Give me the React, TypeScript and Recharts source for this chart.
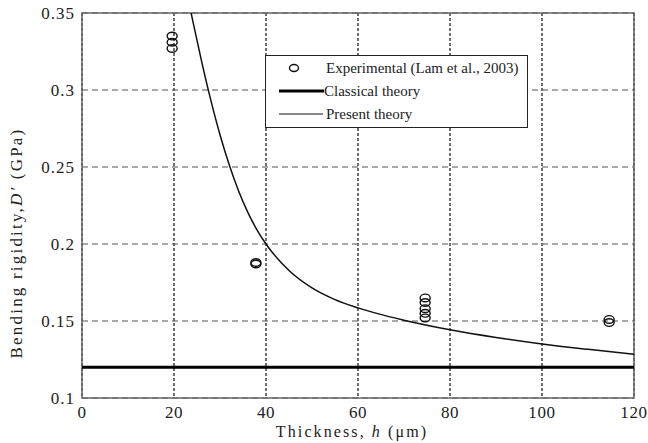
import React from "react";
import {
  ComposedChart,
  Line,
  Scatter,
  XAxis,
  YAxis,
  CartesianGrid,
  ReferenceArea,
  Label,
} from "recharts";

// present theory curve
const presentH = [23, 24, 26, 28, 30, 32, 34, 36, 38, 40, 45, 50, 55, 60, 70, 80, 90, 100, 110, 120];
const presentD = [0.3605, 0.346, 0.3186, 0.2934, 0.2709, 0.2514, 0.2348, 0.2209, 0.2094, 0.2, 0.1828, 0.1715, 0.1639, 0.1585, 0.1505, 0.1443, 0.1393, 0.1351, 0.1316, 0.1284];

// classical theory (constant)
const classicalH = [0, 120];
const classicalD = [0.12, 0.12];

// experimental (Lam et al., 2003)
const expH = [19.6, 19.6, 19.6, 37.8, 37.8, 74.6, 74.6, 74.6, 74.6, 74.6, 114.6, 114.6];
const expD = [0.335, 0.331, 0.327, 0.188, 0.187, 0.165, 0.162, 0.158, 0.155, 0.152, 0.151, 0.149];

const xTicks = [0, 20, 40, 60, 80, 100, 120];
const yTicks = [0.1, 0.15, 0.2, 0.25, 0.3, 0.35];

const present = presentH.map((h, i) => ({ h, d: presentD[i] }));
const classical = classicalH.map((h, i) => ({ h, d: classicalD[i] }));
const experimental = expH.map((h, i) => ({ h, d: expD[i] }));

const font = "'Liberation Serif', 'Times New Roman', 'DejaVu Serif', serif";

const Ring = (props: any) => (
  <ellipse cx={props.cx} cy={props.cy} rx={5} ry={3.8} fill="none" stroke="#111" strokeWidth={1.4} />
);

export default function App() {
  return (
    <div style={{ position: "absolute", left: 0, top: 0, width: 648, height: 443, background: "#fff", fontFamily: font }}>
      <ComposedChart
        width={648}
        height={443}
        margin={{ top: 13, right: 14, bottom: 0, left: 0 }}
        style={{ fontFamily: font }}
      >
        <CartesianGrid horizontal={false} stroke="#222" strokeDasharray="3 2" strokeWidth={1.3} />
        <CartesianGrid vertical={false} stroke="#555" strokeDasharray="6 4" strokeWidth={1.2} />
        <XAxis
          dataKey="h"
          type="number"
          domain={[0, 120]}
          ticks={xTicks}
          height={45}
          axisLine={false}
          tickLine={false}
          tick={{ fill: "#222", fontSize: 17, letterSpacing: 0.6, style: { fontFamily: font } }}
          tickMargin={2}
        >
          <Label
            content={() => (
              <text
                x={352}
                y={437}
                textAnchor="middle"
                fill="#222"
                fontSize={16}
                letterSpacing={2.1}
                style={{ fontFamily: font }}
              >
                Thickness, <tspan fontStyle="italic">h</tspan> (μm)
              </text>
            )}
          />
        </XAxis>
        <YAxis
          dataKey="d"
          type="number"
          domain={[0.1, 0.35]}
          ticks={yTicks}
          width={82}
          axisLine={false}
          tickLine={false}
          tick={{ fill: "#222", fontSize: 17, letterSpacing: 1, style: { fontFamily: font } }}
          tickMargin={1}
          allowDataOverflow
        >
          <Label
            content={() => (
              <text
                x={0}
                y={0}
                transform="translate(22,243) rotate(-90)"
                textAnchor="middle"
                fill="#222"
                fontSize={17}
                letterSpacing={2.2}
                style={{ fontFamily: font }}
              >
                Bending rigidity,<tspan fontStyle="italic">D′</tspan> (GPa)
              </text>
            )}
          />
        </YAxis>
        <ReferenceArea x1={0} x2={120} y1={0.1} y2={0.35} fill="none" stroke="#666" strokeWidth={1.5} />
        <Line
          data={classical}
          dataKey="d"
          stroke="#000"
          strokeWidth={3}
          dot={false}
          isAnimationActive={false}
        />
        <Line
          data={present}
          dataKey="d"
          type="monotone"
          stroke="#111"
          strokeWidth={1.5}
          dot={false}
          isAnimationActive={false}
        />
        <Scatter data={experimental} dataKey="d" shape={<Ring />} isAnimationActive={false} />
      </ComposedChart>
      <div
        style={{
          position: "absolute",
          left: 265,
          top: 55,
          width: 261,
          height: 71,
          border: "1px solid #222",
          background: "#fff",
          fontSize: 15,
          color: "#222",
          fontFamily: font,
          whiteSpace: "nowrap",
        }}
      >
        <div style={{ position: "absolute", left: 0, top: 1, height: 22, display: "flex", alignItems: "center" }}>
          <svg width={60} height={22}>
            <ellipse cx={28} cy={11} rx={4.5} ry={3.5} fill="none" stroke="#111" strokeWidth={1.4} />
          </svg>
          <span>Experimental (Lam et al., 2003)</span>
        </div>
        <div style={{ position: "absolute", left: 0, top: 24, height: 22, display: "flex", alignItems: "center" }}>
          <svg width={58} height={22}>
            <line x1={13} y1={11} x2={58} y2={11} stroke="#000" strokeWidth={3} />
          </svg>
          <span>Classical theory</span>
        </div>
        <div style={{ position: "absolute", left: 0, top: 47, height: 22, display: "flex", alignItems: "center" }}>
          <svg width={60} height={22}>
            <line x1={13} y1={11} x2={57} y2={11} stroke="#111" strokeWidth={1} />
          </svg>
          <span>Present theory</span>
        </div>
      </div>
    </div>
  );
}
